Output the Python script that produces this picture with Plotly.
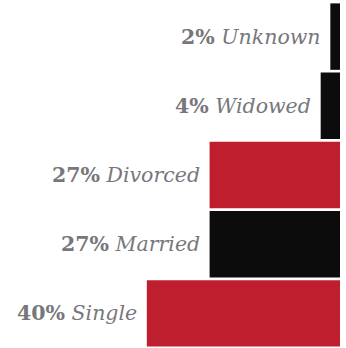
import plotly.graph_objects as go

# Marital status breakdown, top row first
categories = ["Unknown", "Widowed", "Divorced", "Married", "Single"]
percents = [2, 4, 27, 27, 40]
bar_colors = ["#0c0c0c", "#0c0c0c", "#be1e2d", "#0c0c0c", "#be1e2d"]

label_font = dict(family="DejaVu Serif", size=20.5, color="#77777b")

fig = go.Figure(
    go.Bar(
        x=percents,
        y=categories,
        orientation="h",
        marker=dict(color=bar_colors, line=dict(width=0)),
        hoverinfo="skip",
    )
)

# Labels sit just past the end of each bar (axis runs right-to-left)
for cat, pct in zip(categories, percents):
    fig.add_annotation(
        x=pct,
        y=cat,
        xref="x",
        yref="y",
        text=f"<b>{pct}%</b> <i>{cat}</i>",
        showarrow=False,
        xanchor="right",
        yanchor="middle",
        xshift=-8,
        font=label_font,
    )

fig.update_layout(
    width=346,
    height=348,
    margin=dict(l=0, r=6, t=2, b=0),
    paper_bgcolor="white",
    plot_bgcolor="white",
    showlegend=False,
    bargap=0.04,
    xaxis=dict(range=[70.4, 0], visible=False, fixedrange=True),
    yaxis=dict(
        categoryorder="array",
        categoryarray=categories[::-1],
        visible=False,
        fixedrange=True,
    ),
)

fig.write_html("out.html")
